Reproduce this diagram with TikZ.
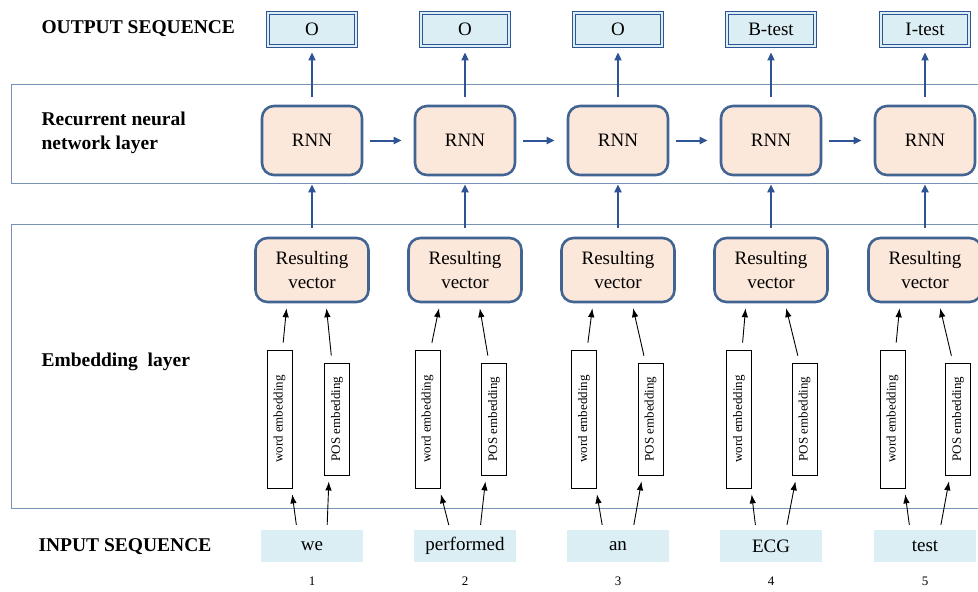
\documentclass[tikz,border=0pt]{standalone}
\usepackage{fontspec}
\setmainfont{Liberation Serif}
\usepackage{graphicx}
\usepackage{tikz}
\usetikzlibrary{arrows.meta, positioning}
\definecolor{bandline}{RGB}{120,146,182}
\definecolor{rnnfill}{RGB}{252,232,218}
\definecolor{rnndraw}{RGB}{66,100,146}
\definecolor{seqfill}{RGB}{219,238,244}
\definecolor{seqdraw}{RGB}{47,84,150}
\definecolor{arrblue}{RGB}{47,84,150}
\tikzset{
  band/.style={draw=bandline, line width=0.9pt},
  layerlabel/.style={anchor=west, align=left, font=\fontsize{19.5}{24}\selectfont\bfseries},
  rnnbox/.style={rectangle, minimum width=100pt, minimum height=69pt, rounded corners=12pt, draw=rnndraw, fill=rnnfill, line width=2.6pt, font=\fontsize{19}{22}\selectfont},
  vecbox/.style={rnnbox, minimum width=113pt, minimum height=64pt, align=center, font=\fontsize{19}{24}\selectfont},
  outbox/.style={rectangle, minimum width=88pt, minimum height=33pt, draw=seqdraw, line width=0.9pt, double=seqfill, double distance=1.4pt, fill=seqfill, font=\fontsize{19}{22}\selectfont},
  inbox/.style={rectangle, minimum width=102pt, minimum height=32pt, fill=seqfill, font=\fontsize{19}{22}\selectfont},
  embbox/.style={rectangle, draw=black, line width=0.9pt, minimum width=25pt, inner sep=0pt, font=\fontsize{13}{15}\selectfont},
  numlabel/.style={font=\fontsize{13}{15}\selectfont},
  blarrow/.style={-{Triangle[length=8pt, width=7pt]}, arrblue, line width=2pt},
  emarrow/.style={-{Latex[length=9pt, width=6.5pt]}, black, line width=0.9pt},
}
\begin{document}
\begin{tikzpicture}[x=1pt, y=-1pt]
\useasboundingbox (0,0) rectangle (978,592);
% layer bands
\draw[band] (990,84) -- (11,84) -- (11,183) -- (990,183);
\draw[band] (990,224) -- (11,224) -- (11,508) -- (990,508);
% row labels
\node (outlabel) [layerlabel] at (38,29) {OUTPUT SEQUENCE};
\node (rnnlabel) [layerlabel] at (38,133) {Recurrent neural\\network layer};
\node (emblabel) [layerlabel] at (38,362) {Embedding\ \ layer};
\node (inlabel) [layerlabel] at (35,547) {INPUT SEQUENCE};
% columns
\foreach \i/\c/\w/\p/\tag/\word in {1/312/279.5/337/O/we, 2/465/427.5/494/O/performed, 3/618/584/650.5/O/an, 4/771/739/804.5/B-test/ECG, 5/925/892.5/958/I-test/test}{
  \node (out\i) [outbox] at (\c,29.5) {\tag};
  \node (rnn\i) [rnnbox] at (\c,140.5) {RNN};
  \node (vec\i) [vecbox] at (\c,270) {Resulting\\vector};
  \node (we\i) [embbox, minimum height=138pt] at (\w,419) {\rotatebox{90}{word embedding}};
  \node (pe\i) [embbox, minimum height=112pt] at (\p,419) {\rotatebox{90}{POS embedding}};
  \node (in\i) [inbox] at (\c,546) {\word};
  \node (num\i) [numlabel] at (\c,581) {\i};
  \draw[blarrow, shorten <=8pt, shorten >=6pt] (rnn\i) -- (out\i);
  \draw[blarrow, shorten <=9pt, shorten >=8pt] (vec\i) -- (rnn\i);
  \draw[emarrow, shorten <=7pt, shorten >=5pt] ([xshift=3pt]we\i.north) -- ([xshift=-25pt]vec\i.south);
  \draw[emarrow, shorten <=7pt, shorten >=5pt] ([xshift=-5pt]pe\i.north) -- ([xshift=14pt]vec\i.south);
  \draw[emarrow, shorten <=5pt, shorten >=6pt] ([xshift=-15pt]in\i.north) -- ([xshift=-1pt]we\i.south east);
  \draw[emarrow, shorten <=5pt, shorten >=6pt] ([xshift=15pt]in\i.north) -- ([xshift=5pt]pe\i.south west);
}
\foreach \i [count=\j from 2] in {1,...,4}
  \draw[blarrow, shorten <=7pt, shorten >=12pt] (rnn\i) -- (rnn\j);
\end{tikzpicture}
\end{document}
